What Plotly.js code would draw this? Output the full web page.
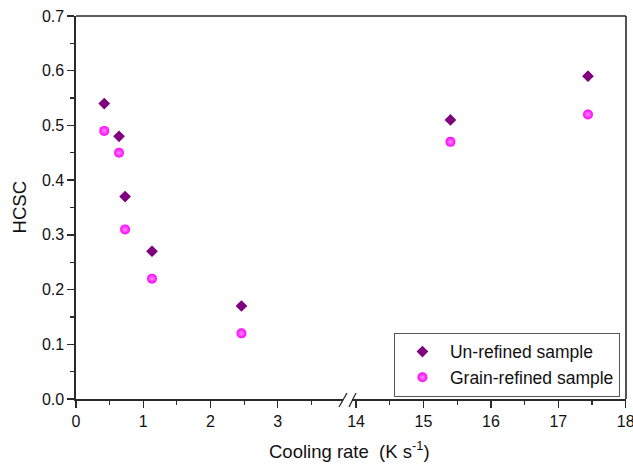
<!DOCTYPE html>
<html>
<head>
<meta charset="utf-8">
<script src="https://cdn.plot.ly/plotly-3.0.1.min.js"></script>
<style>html,body{margin:0;padding:0;background:#fff;}#chart{width:633px;height:464px;}</style>
</head>
<body>
<div id="chart"></div>
<script>
// Data
const seriesNames = ["Un-refined sample", "Grain-refined sample"];
const lowRates = [0.42, 0.64, 0.73, 1.13, 2.46];
const lowUnrefined = [0.54, 0.48, 0.37, 0.27, 0.17];
const lowRefined = [0.49, 0.45, 0.31, 0.22, 0.12];
const highRates = [15.4, 17.44];
const highUnrefined = [0.51, 0.59];
const highRefined = [0.47, 0.52];
const lowTicks = [0, 1, 2, 3];
const highTicks = [14, 15, 16, 17, 18];
const yTicks = [0, 0.1, 0.2, 0.3, 0.4, 0.5, 0.6, 0.7];

const purple = "#800080";
const magenta = "#ff00ff";
const diamond = {symbol: "diamond", size: 9, color: purple, line: {width: 0}};
const sphere = {symbol: "circle", size: 10, color: magenta, line: {width: 0},
  gradient: {type: "radial", color: "#ff8cff"}};

const traces = [
  {x: lowRates, y: lowUnrefined, xaxis: "x", yaxis: "y", type: "scatter", mode: "markers",
   name: seriesNames[0], marker: diamond},
  {x: lowRates, y: lowRefined, xaxis: "x", yaxis: "y", type: "scatter", mode: "markers",
   name: seriesNames[1], marker: sphere},
  {x: highRates, y: highUnrefined, xaxis: "x2", yaxis: "y", type: "scatter", mode: "markers",
   name: seriesNames[0], marker: diamond, showlegend: false},
  {x: highRates, y: highRefined, xaxis: "x2", yaxis: "y", type: "scatter", mode: "markers",
   name: seriesNames[1], marker: sphere, showlegend: false}
];

const axisColor = "#2a2a2a";
const fam = "Liberation Sans, Arial, sans-serif";
const tickFont = {family: fam, size: 16, color: "#111"};
const commonX = {
  showgrid: false, zeroline: false, showline: true, linecolor: axisColor, linewidth: 1.6,
  ticks: "outside", ticklen: 7, tickwidth: 1.3, tickcolor: axisColor, tickfont: tickFont,
  minor: {dtick: 0.5, ticks: "outside", ticklen: 4, tickwidth: 1.2, tickcolor: axisColor},
  ticklabeloverflow: "allow", fixedrange: true
};

const layout = {
  width: 633, height: 464,
  margin: {l: 76, r: 7, t: 16, b: 65},
  paper_bgcolor: "#fff", plot_bgcolor: "#fff",
  showlegend: true,
  xaxis: Object.assign({}, commonX, {domain: [0, 0.4855], range: [0, 3.97],
    tickmode: "array", tickvals: lowTicks, ticktext: lowTicks.map(String), anchor: "y"}),
  xaxis2: Object.assign({}, commonX, {domain: [0.5018, 1], range: [13.94, 18.004],
    tickmode: "array", tickvals: highTicks, ticktext: highTicks.map(String), anchor: "y"}),
  yaxis: {range: [0, 0.7], tickmode: "array", tickvals: yTicks, ticktext: yTicks.map(v => v.toFixed(1)),
    showgrid: false, zeroline: false, showline: true, linecolor: axisColor, linewidth: 1.6,
    ticks: "outside", ticklen: 7, tickwidth: 1.3, tickcolor: axisColor, tickfont: tickFont,
    minor: {dtick: 0.05, ticks: "outside", ticklen: 4, tickwidth: 1.2, tickcolor: axisColor},
    ticklabeloverflow: "allow", anchor: "x", fixedrange: true},
  legend: {x: 0.989, y: 0.006, xanchor: "right", yanchor: "bottom",
    bgcolor: "#fff", bordercolor: "#555", borderwidth: 1, tracegroupgap: 0,
    itemwidth: 45,
    font: {family: fam, size: 17.5, color: "#111"}},
  annotations: [
    {text: "Cooling rate  (K s<sup>-1</sup>)", xref: "paper", yref: "paper", x: 0.498, y: -0.133,
     xanchor: "center", yanchor: "middle", showarrow: false,
     font: {family: fam, size: 18.5, color: "#111"}},
    {text: "HCSC", xref: "paper", yref: "paper", x: -0.102, y: 0.5, textangle: -90,
     xanchor: "center", yanchor: "middle", showarrow: false,
     font: {family: fam, size: 18.5, color: "#111"}}
  ],
  shapes: [
    {type: "line", xref: "paper", yref: "paper", x0: 0, x1: 1, y0: 1, y1: 1,
     line: {color: axisColor, width: 1.6}},
    {type: "line", xref: "paper", yref: "paper", x0: 1, x1: 1, y0: 0, y1: 1,
     line: {color: axisColor, width: 1.6}},
    {type: "line", xref: "paper", yref: "paper", x0: 0.4782, x1: 0.4927, y0: -0.0209, y1: 0.0157,
     line: {color: axisColor, width: 1.3}},
    {type: "line", xref: "paper", yref: "paper", x0: 0.4964, x1: 0.5091, y0: -0.0209, y1: 0.0157,
     line: {color: axisColor, width: 1.3}}
  ]
};

Plotly.newPlot("chart", traces, layout, {displayModeBar: false, staticPlot: true});
</script>
</body>
</html>
